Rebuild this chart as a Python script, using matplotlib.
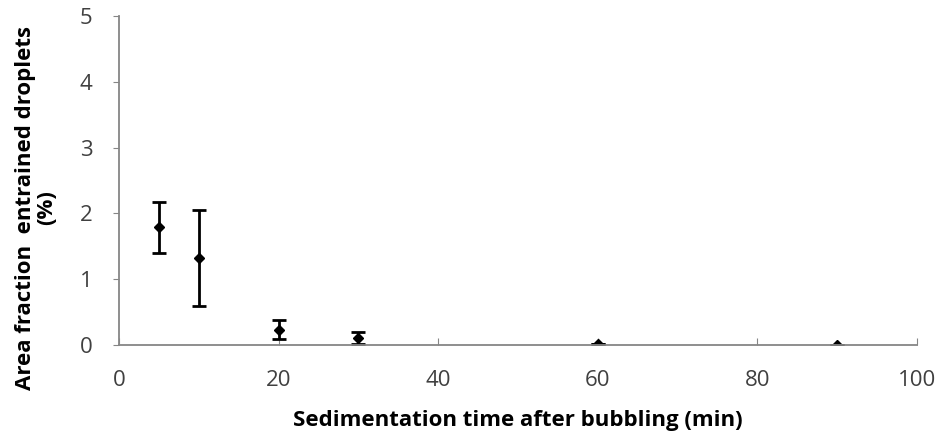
import numpy as np
import matplotlib
matplotlib.use("Agg")
import matplotlib.pyplot as plt

# data
time_min = [5, 10, 20, 30, 60, 90]
area_frac = [1.79, 1.32, 0.23, 0.11, 0.02, 0.0]
area_err = [0.39, 0.73, 0.145, 0.09, 0.0, 0.0]

plt.rcParams['font.family'] = ['Open Sans', 'DejaVu Sans']

fig = plt.figure(figsize=(9.39, 4.38), dpi=100)
ax = fig.add_axes([0.1267, 0.2123, 0.85, 0.7512])

ax.errorbar(time_min, area_frac, yerr=area_err, fmt='D', color='black',
            markersize=5, ecolor='black', elinewidth=2, capsize=5, capthick=2)

ax.set_xlim(0, 100)
ax.set_ylim(0, 5)
ax.set_xticks(np.arange(0, 101, 20))
ax.set_yticks(np.arange(0, 6, 1))

for s in ['top', 'right']:
    ax.spines[s].set_visible(False)
for s in ['left', 'bottom']:
    ax.spines[s].set_color('#868686')
    ax.spines[s].set_linewidth(1.3)

ax.tick_params(axis='y', direction='out', length=4, color='#868686',
               labelsize=16, labelcolor='#404040', pad=15)
ax.tick_params(axis='x', direction='in', length=5, color='#868686',
               labelsize=16, labelcolor='#404040', pad=18)

ax.set_xlabel("Sedimentation time after bubbling (min)", fontsize=16,
              fontweight='bold', labelpad=14)
# y label sits a bit lower than the axes centre in the original
fig.text(36 / 939, 0.525, "Area fraction  entrained droplets\n(%)",
         rotation=90, ha='center', va='center', fontsize=16,
         fontweight='bold', linespacing=1.0, multialignment='center')

fig.savefig("out.png", dpi=100)
